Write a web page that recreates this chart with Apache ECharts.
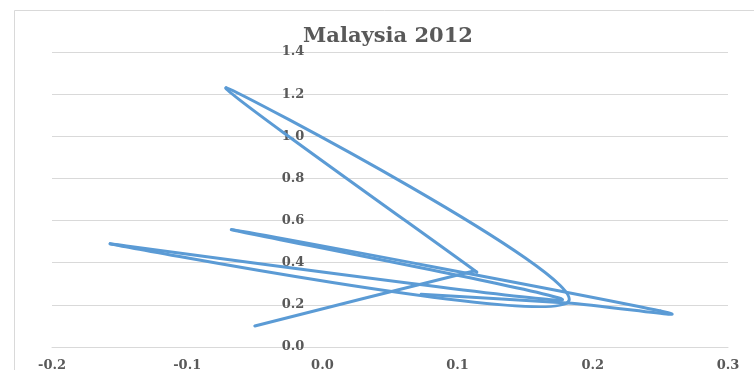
<!DOCTYPE html>
<html>
<head>
<meta charset="utf-8">
<script src="https://cdn.jsdelivr.net/npm/echarts@6/dist/echarts.min.js"></script>
<style>
  html, body { margin: 0; padding: 0; background: #fff; }
  #chart { width: 754px; height: 370px; }
</style>
</head>
<body>
<div id="chart"></div>
<script>
// Path of the 2012 observations, in the order they are connected
const xVals = [-0.050, 0.112, 0.114, -0.071, 0.182, -0.157, 0.177, -0.067, 0.250, 0.181, 0.073];
const yVals = [0.100, 0.361, 0.356, 1.230, 0.215, 0.490, 0.223, 0.557, 0.171, 0.209, 0.250];

// Axis ticks
const xTicks = [-0.2, -0.1, 0.0, 0.1, 0.2, 0.3];
const yTicks = [0.0, 0.2, 0.4, 0.6, 0.8, 1.0, 1.2, 1.4];

const titleText = 'Malaysia 2012';

const points = xVals.map((x, i) => [x, yVals[i]]);

const labelFont = {
  fontFamily: '"DejaVu Serif", "Liberation Serif", serif',
  fontWeight: 'bold',
  fontSize: 13,
  color: '#595959'
};

// Smoothed connector: cubic Bezier segments with 1/6 tangents,
// tangent length limited to half of the segment
function renderSegment(params, api) {
  const i = params.dataIndex;
  const n = points.length;
  if (i >= n - 1) return null;
  const px = points.map(p => api.coord(p));
  const p0 = px[Math.max(i - 1, 0)];
  const p1 = px[i];
  const p2 = px[i + 1];
  const p3 = px[Math.min(i + 2, n - 1)];
  const dist = (a, b) => Math.hypot(a[0] - b[0], a[1] - b[1]);
  const d12 = dist(p1, p2);
  const d02 = dist(p0, p2);
  const d13 = dist(p1, p3);
  let f1 = 1 / 6, f2 = 1 / 6;
  if (d02 / 6 > d12 / 2 && d02 > 0) f1 = d12 / (2 * d02);
  if (d13 / 6 > d12 / 2 && d13 > 0) f2 = d12 / (2 * d13);
  const c1 = [p1[0] + (p2[0] - p0[0]) * f1, p1[1] + (p2[1] - p0[1]) * f1];
  const c2 = [p2[0] - (p3[0] - p1[0]) * f2, p2[1] - (p3[1] - p1[1]) * f2];
  return {
    type: 'bezierCurve',
    shape: {
      x1: p1[0], y1: p1[1],
      cpx1: c1[0], cpy1: c1[1],
      cpx2: c2[0], cpy2: c2[1],
      x2: p2[0], y2: p2[1]
    },
    style: {
      stroke: '#5B9BD5',
      lineWidth: 3,
      fill: null,
      lineCap: 'round',
      lineJoin: 'round'
    },
    silent: true
  };
}

const chart = echarts.init(document.getElementById('chart'), null, { renderer: 'canvas' });

chart.setOption({
  animation: false,
  backgroundColor: '#ffffff',
  title: {
    text: titleText,
    left: 383,
    top: 21,
    textAlign: 'center',
    textStyle: {
      fontFamily: '"DejaVu Serif", "Liberation Serif", serif',
      fontWeight: 'bold',
      fontSize: 21,
      color: '#595959'
    }
  },
  graphic: [{
    type: 'rect',
    shape: { x: 14.5, y: 10.5, width: 760, height: 400 },
    style: { fill: null, stroke: '#D9D9D9', lineWidth: 1 },
    silent: true
  }],
  grid: {
    left: 52, right: 26, top: 52, bottom: 23,
    containLabel: false,
    outerBoundsMode: 'none'
  },
  xAxis: {
    type: 'value',
    min: xTicks[0],
    max: xTicks[xTicks.length - 1],
    interval: 0.1,
    axisLine: { show: true, onZero: false, lineStyle: { color: '#D9D9D9', width: 1 } },
    axisTick: { show: false },
    splitLine: { show: false },
    axisLabel: Object.assign({
      margin: 12,
      formatter: v => v.toFixed(1)
    }, labelFont)
  },
  yAxis: {
    type: 'value',
    min: yTicks[0],
    max: yTicks[yTicks.length - 1],
    interval: 0.2,
    axisLine: { show: false, onZero: false },
    axisTick: { show: false },
    splitLine: { show: true, lineStyle: { color: '#D9D9D9', width: 1 } },
    axisLabel: Object.assign({
      margin: 18,
      formatter: v => v.toFixed(1)
    }, labelFont)
  },
  series: [{
    type: 'custom',
    name: 'Malaysia 2012',
    renderItem: renderSegment,
    data: points,
    encode: { x: 0, y: 1 },
    clip: false,
    z: 5
  }]
});

// Place the vertical axis (and its labels) where it crosses x = 0
const xAtZero = chart.convertToPixel({ xAxisIndex: 0 }, 0);
const xAtMin = chart.convertToPixel({ xAxisIndex: 0 }, xTicks[0]);
chart.setOption({ yAxis: { offset: xAtMin - xAtZero } });
</script>
</body>
</html>
